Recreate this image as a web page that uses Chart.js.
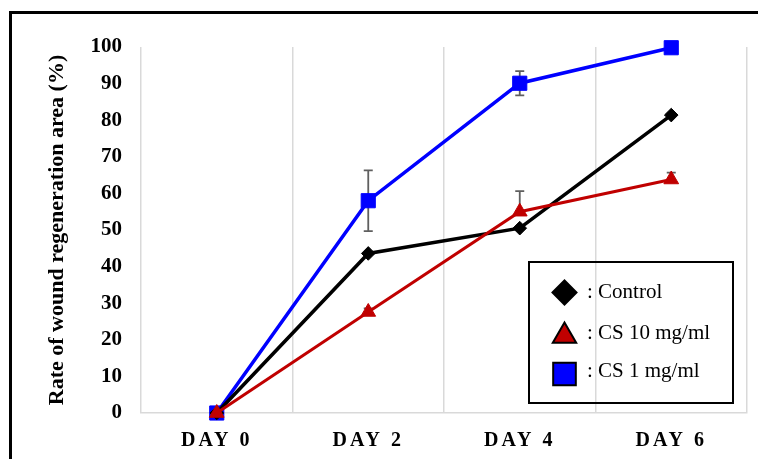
<!DOCTYPE html>
<html>
<head>
<meta charset="utf-8">
<script src="https://cdn.jsdelivr.net/npm/chart.js@4.4.0/dist/chart.umd.min.js"></script>
<style>
  html, body { margin: 0; padding: 0; background: #fff; overflow: hidden; }
  #wrap { position: relative; width: 758px; height: 459px; }
  #frame { position: absolute; left: 9px; top: 11px; width: 800px; height: 500px;
           border: 3px solid #000; box-sizing: border-box; pointer-events: none; }
  canvas { position: absolute; left: 0; top: 0; }
</style>
</head>
<body>
<div id="wrap">
  <canvas id="c" width="758" height="459"></canvas>
  <div id="frame"></div>
</div>
<script>
// Categories and measured series (%)
const days = ['DAY 0', 'DAY 2', 'DAY 4', 'DAY 6'];
const controlValues = [0, 43.6, 50.5, 81.4];
const cs10Values    = [0, 27.6, 55.0, 63.8];
const cs1Values     = [0, 58.0, 90.1, 99.8];

// Standard deviations
const controlErr = [0, 0, 0, 0];
const cs10Err    = [0, 1.0, 5.6, 1.9];
const cs1Err     = [0, 8.3, 3.3, 0];

// Y axis range
const yMin = 0, yMax = 100, yStep = 10;

const SERIF = "'Liberation Serif', 'Times New Roman', serif";

// Error bars drawn underneath the lines and markers
const errorBars = {
  id: 'errorBars',
  beforeDatasetsDraw(chart) {
    const { ctx, scales: { x, y } } = chart;
    ctx.save();
    ctx.strokeStyle = '#5f5f5f';
    ctx.lineWidth = 1.8;
    chart.data.datasets.forEach(ds => {
      ds.errors.forEach((e, i) => {
        if (!e) return;
        const v = ds.data[i];
        const px = x.getPixelForValue(i);
        const top = y.getPixelForValue(v + e);
        const bot = ds.errDir === 'plus' ? y.getPixelForValue(v) : y.getPixelForValue(v - e);
        ctx.beginPath();
        ctx.moveTo(px, top); ctx.lineTo(px, bot);
        ctx.moveTo(px - 4.5, top); ctx.lineTo(px + 4.5, top);
        if (ds.errDir !== 'plus') { ctx.moveTo(px - 4.5, bot); ctx.lineTo(px + 4.5, bot); }
        ctx.stroke();
      });
    });
    ctx.restore();
  }
};

// Boxed legend inside the plot area
const boxLegend = {
  id: 'boxLegend',
  afterDraw(chart) {
    const ctx = chart.ctx;
    ctx.save();
    ctx.lineWidth = 2;
    ctx.strokeStyle = '#000';
    ctx.strokeRect(529, 262, 204, 141);
    const rows = [
      { ds: chart.data.datasets[0], my: 292.5, ty: 292.5, style: 'rectRot', r: 12 },
      { ds: chart.data.datasets[1], my: 336, ty: 333.5, style: 'triangle', r: 13.5 },
      { ds: chart.data.datasets[2], my: 374, ty: 371, style: 'rect', r: 16 }
    ];
    rows.forEach(row => {
      ctx.fillStyle = row.ds.pointBackgroundColor;
      ctx.strokeStyle = '#000';
      ctx.lineWidth = 2;
      Chart.helpers.drawPoint(ctx, { pointStyle: row.style, radius: row.r, borderWidth: 2, rotation: 0 }, 564.5, row.my);
      ctx.fillStyle = '#000';
      ctx.font = '21px ' + SERIF;
      ctx.textBaseline = 'middle';
      ctx.textAlign = 'left';
      ctx.fillText(': ' + row.ds.label, 587, row.ty);
    });
    ctx.restore();
  }
};

const gridColor = '#d9d9d9';

new Chart(document.getElementById('c'), {
  type: 'line',
  data: {
    labels: days,
    datasets: [
      {
        label: 'Control', data: controlValues, errors: controlErr, errDir: 'both',
        borderColor: '#000000', backgroundColor: '#000000',
        pointBackgroundColor: '#000000', pointBorderColor: '#000000',
        borderWidth: 3.5, pointStyle: 'rectRot', pointRadius: 6.8, pointBorderWidth: 1,
        order: 2, clip: false
      },
      {
        label: 'CS 10 mg/ml', data: cs10Values, errors: cs10Err, errDir: 'plus',
        borderColor: '#c00000', backgroundColor: '#c00000',
        pointBackgroundColor: '#c00000', pointBorderColor: '#c00000',
        borderWidth: 3, pointStyle: 'triangle', pointRadius: 8.5, pointBorderWidth: 1,
        order: 1, clip: false
      },
      {
        label: 'CS 1 mg/ml', data: cs1Values, errors: cs1Err, errDir: 'both',
        borderColor: '#0000ff', backgroundColor: '#0000ff',
        pointBackgroundColor: '#0000ff', pointBorderColor: '#0000ff',
        borderWidth: 3.5, pointStyle: 'rect', pointRadius: 10, pointBorderWidth: 1,
        order: 3, clip: false
      }
    ]
  },
  options: {
    responsive: false,
    devicePixelRatio: 1,
    animation: false,
    events: [],
    layout: { padding: { left: 0, right: 11, top: 47, bottom: 0 } },
    plugins: { legend: { display: false }, tooltip: { enabled: false } },
    elements: { line: { tension: 0 } },
    scales: {
      x: {
        offset: true,
        grid: { offset: true, color: gridColor, lineWidth: 1.5, drawTicks: false },
        border: { display: true, color: gridColor, width: 1.5 },
        ticks: { color: '#000', font: { family: SERIF, size: 20, weight: 'bold' }, padding: 16, maxRotation: 0 },
        afterFit(scale) {
          scale.height = 46;
          if (!scale._spaced) {
            const orig = scale.drawLabels;
            scale.drawLabels = function (area) {
              this.ctx.save();
              this.ctx.letterSpacing = '3px';
              orig.call(this, area);
              this.ctx.restore();
            };
            scale._spaced = true;
          }
        }
      },
      y: {
        min: yMin, max: yMax,
        grid: { display: false, drawTicks: false },
        border: { display: false },
        ticks: { stepSize: yStep, color: '#000', font: { family: SERIF, size: 21, weight: 'bold' }, padding: 19 },
        title: {
          display: true, text: 'Rate of wound regeneration area (%)', color: '#000',
          font: { family: SERIF, size: 22, weight: 'bold' }, padding: { top: 44, bottom: 0 }
        },
        afterFit(scale) { scale.width = 141; }
      }
    }
  },
  plugins: [errorBars, boxLegend]
});
</script>
</body>
</html>
